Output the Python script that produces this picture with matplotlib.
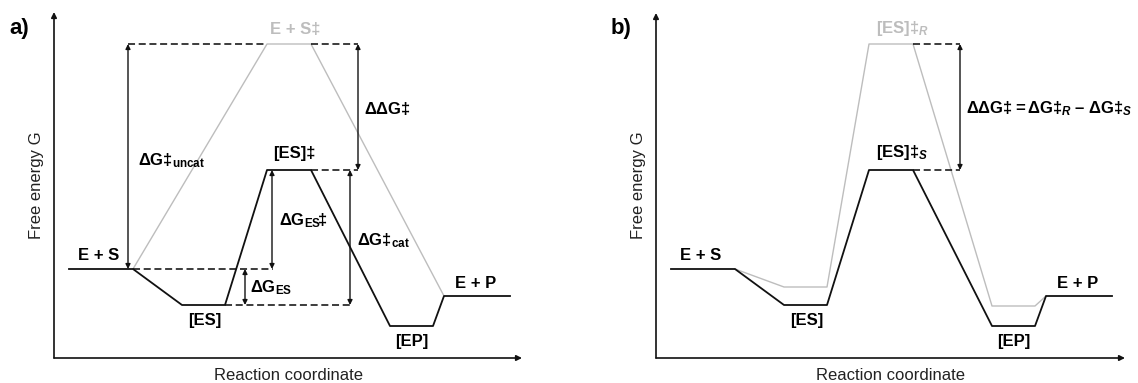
import matplotlib
matplotlib.use("Agg")
import matplotlib.pyplot as plt

plt.rcParams['font.family'] = ['Liberation Sans', 'DejaVu Sans']
plt.rcParams['mathtext.fontset'] = 'custom'
plt.rcParams['mathtext.rm'] = 'Liberation Sans:bold'
plt.rcParams['mathtext.bf'] = 'Liberation Sans:bold'
plt.rcParams['mathtext.it'] = 'Liberation Sans:bold:italic'
plt.rcParams['mathtext.default'] = 'bf'

# reaction coordinate of the path corners (arbitrary units), shared by both panels
rc_nodes = [15, 79, 128, 171, 213, 257, 336, 379, 390, 456]
# free energy relative to E + S (arbitrary units)
g_cat = [0, 0, -36, -36, 99, 99, -57, -57, -27, -27]      # catalysed / fast enantiomer
rc_uncat = [79, 213, 257, 390]
g_uncat = [0, 225, 225, -27]                               # uncatalysed path
rc_slow = rc_nodes[1:9]
g_slow = [0, -18, -18, 225, 225, -37, -37, -27]            # slow enantiomer (R)

BLACK = '#111111'
GREY = '#bdbdbd'
LBL = dict(fontsize=12, fontweight='bold', ha='left', va='baseline')


def base_axes(fig, left, top, right, tag):
    W, H = 1138.0, 383.0
    bottom = 358
    ax = fig.add_axes([left / W, (H - bottom) / H, (right - left) / W, (bottom - top) / H])
    ax.set_xlim(0, right - left)
    ax.set_ylim(-89, 269 - top)
    ax.axis('off')
    arw = dict(arrowstyle='-|>', lw=1.2, mutation_scale=8, shrinkA=0, shrinkB=0, color=BLACK)
    ax.annotate('', xy=(1, 0), xytext=(0, 0), xycoords='axes fraction', arrowprops=arw)
    ax.annotate('', xy=(0, 1), xytext=(0, 0), xycoords='axes fraction', arrowprops=arw)
    ax.annotate('Reaction coordinate', xy=(0.5, 0), xycoords='axes fraction',
                xytext=(0, -15.8), textcoords='offset points',
                ha='center', va='baseline', fontsize=12, color='#222222')
    ax.annotate('Free energy G', xy=(0, 0.5), xycoords='axes fraction',
                xytext=(-9, 0), textcoords='offset points', rotation=90,
                rotation_mode='anchor', ha='center', va='baseline',
                fontsize=12, color='#222222')
    fig.text((left - 45) / W, 1 - 34 / H, tag, fontsize=16, fontweight='bold',
             ha='left', va='baseline')
    return ax


def dashed(ax, x0, x1, y):
    ax.plot([x0, x1], [y, y], color=BLACK, lw=1.15, ls=(0, (4.4, 2.3)))


def dbl_arrow(ax, x, y0, y1):
    ax.annotate('', xy=(x, y1), xytext=(x, y0),
                arrowprops=dict(arrowstyle='<|-|>', lw=1.0, mutation_scale=7,
                                shrinkA=0, shrinkB=0, color=BLACK))


def states(ax):
    ax.text(24, 9, 'E + S', **LBL)
    ax.text(134, -56, '[ES]', **LBL)
    ax.text(341, -77, '[EP]', **LBL)
    ax.text(401, -19, 'E + P', **LBL)


fig = plt.figure(figsize=(11.38, 3.83), dpi=100)

# ---- a) catalysed vs uncatalysed
ax = base_axes(fig, 54, 12, 522, 'a)')
ax.plot(rc_uncat, g_uncat, color=GREY, lw=1.0)
ax.plot(rc_nodes, g_cat, color=BLACK, lw=1.3)
g_es, g_ts, g_uts = g_cat[2], g_cat[4], g_uncat[1]
dashed(ax, 74, rc_uncat[1], g_uts)
dashed(ax, rc_uncat[2], 304, g_uts)
dashed(ax, rc_nodes[5], 304, g_ts)
dashed(ax, rc_nodes[1], 219, 0)
dashed(ax, rc_nodes[3], 296, g_es)
dbl_arrow(ax, 74, 0, g_uts)
dbl_arrow(ax, 304, g_ts, g_uts)
dbl_arrow(ax, 218, 0, g_ts)
dbl_arrow(ax, 191, g_es, 0)
dbl_arrow(ax, 296, g_es, g_ts)
states(ax)
ax.text(219, 111, '[ES]‡', **LBL)
ax.text(216, 235, 'E + S‡', color=GREY, **LBL)
ax.text(84, 104, r'$ΔG‡_{uncat}$', **LBL)
ax.text(310, 155, r'$ΔΔG‡$', **LBL)
ax.text(225, 44, r'$ΔG_{ES}\!‡$', **LBL)
ax.text(196, -23, r'$ΔG_{ES}$', **LBL)
ax.text(303, 24, r'$ΔG‡_{cat}$', **LBL)

# ---- b) two enantiomers
ax = base_axes(fig, 656, 13, 1125, 'b)')
ax.plot(rc_slow, g_slow, color=GREY, lw=1.0)
ax.plot(rc_nodes, g_cat, color=BLACK, lw=1.3)
dashed(ax, rc_nodes[5], 304, g_slow[4])
dashed(ax, rc_nodes[5], 304, g_cat[4])
dbl_arrow(ax, 304, g_cat[4], g_slow[4])
states(ax)
ax.text(220, 236, r'$[ES]‡_{\mathit{R}}$', color=GREY, **LBL)
ax.text(220, 112, r'$[ES]‡_{\mathit{S}}$', **LBL)
ax.text(310, 156, r'$ΔΔG‡=ΔG‡_{\mathit{R}}\;–\;ΔG‡_{\mathit{S}}$', **LBL)

fig.savefig('out.png', dpi=100)
